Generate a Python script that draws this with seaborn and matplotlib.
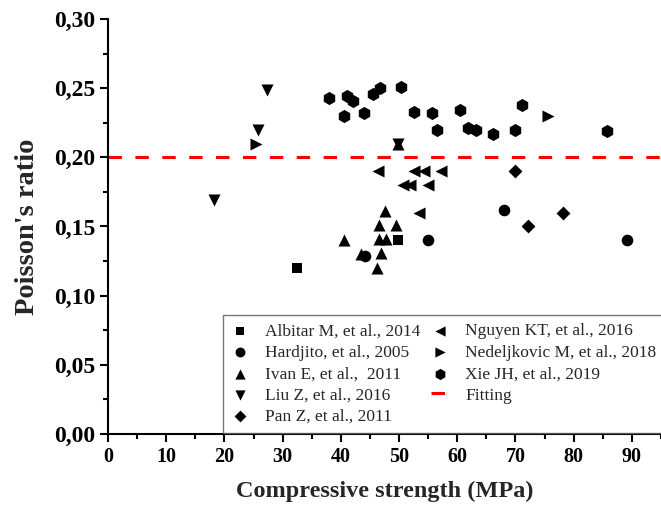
import matplotlib
matplotlib.use("Agg")
import matplotlib.pyplot as plt
import matplotlib.ticker as mticker
import seaborn as sns
import pandas as pd

# ---- data ----
albitar_x = [32.5, 49.9]
albitar_y = [0.12, 0.14]

hardjito_x = [44.2, 55.0, 68.1, 89.1]
hardjito_y = [0.129, 0.14, 0.162, 0.14]

ivan_x = [47.6, 46.6, 49.4, 40.5, 46.6, 47.8, 43.5, 46.9, 46.2, 49.9]
ivan_y = [0.161, 0.151, 0.151, 0.14, 0.141, 0.141, 0.13, 0.131, 0.12, 0.21]

liu_x = [18.2, 25.7, 27.4, 49.9]
liu_y = [0.169, 0.22, 0.249, 0.21]

pan_x = [69.9, 72.2, 78.1]
pan_y = [0.19, 0.15, 0.16]

nguyen_x = [46.3, 52.5, 54.3, 57.2, 50.6, 51.9, 54.9, 53.5]
nguyen_y = [0.19, 0.19, 0.19, 0.19, 0.18, 0.18, 0.18, 0.16]

nedeljkovic_x = [25.5, 75.6]
nedeljkovic_y = [0.21, 0.23]

xie_x = [37.9, 40.6, 41.1, 42.1, 43.9, 45.5, 46.8, 50.4, 52.6, 55.6,
         56.5, 60.5, 61.9, 63.3, 66.1, 69.9, 71.1, 85.8]
xie_y = [0.243, 0.230, 0.244, 0.241, 0.232, 0.246, 0.250, 0.251, 0.233, 0.232,
         0.220, 0.234, 0.221, 0.220, 0.217, 0.220, 0.238, 0.219]

fitting_value = 0.20

series = [
    ("Albitar M, et al., 2014", albitar_x, albitar_y, "s"),
    ("Hardjito, et al., 2005", hardjito_x, hardjito_y, "o"),
    ("Ivan E, et al.,  2011", ivan_x, ivan_y, "^"),
    ("Liu Z, et al., 2016", liu_x, liu_y, "v"),
    ("Pan Z, et al., 2011", pan_x, pan_y, "D"),
    ("Nguyen KT, et al., 2016", nguyen_x, nguyen_y, "<"),
    ("Nedeljkovic M, et al., 2018", nedeljkovic_x, nedeljkovic_y, ">"),
    ("Xie JH, et al., 2019", xie_x, xie_y, "h"),
]

sns.set_style("ticks")
plt.rcParams["font.family"] = ["Liberation Serif", "DejaVu Serif"]

fig = plt.figure(figsize=(6.61, 5.08), dpi=100)
ax = fig.add_axes([108 / 661, (508 - 434) / 508, (661 - 108) / 661, (434 - 19) / 508])

sizes = {"s": 55, "o": 70, "^": 75, "v": 75, "D": 50, "<": 75, ">": 75, "h": 90}
for name, xs, ys, mk in series:
    df = pd.DataFrame({"x": xs, "y": ys})
    sns.scatterplot(data=df, x="x", y="y", marker=mk, color="black",
                    s=sizes[mk], linewidth=0, ax=ax, label=name, zorder=3)

ax.axhline(fitting_value, color="#ff0000", lw=2.2, dashes=(4.4, 4.4),
           label="Fitting", zorder=2)

ax.set_xlim(0, 95)
ax.set_ylim(0, 0.30)
ax.xaxis.set_major_locator(mticker.MultipleLocator(10))
ax.xaxis.set_minor_locator(mticker.MultipleLocator(5))
ax.yaxis.set_major_locator(mticker.MultipleLocator(0.05))
ax.yaxis.set_minor_locator(mticker.MultipleLocator(0.025))
ax.yaxis.set_major_formatter(mticker.FuncFormatter(lambda v, p: f"{v:.2f}".replace(".", ",")))

for s in ["top", "right"]:
    ax.spines[s].set_visible(False)
for s in ["left", "bottom"]:
    ax.spines[s].set_linewidth(1.5)
    ax.spines[s].set_color("black")

ax.tick_params(which="major", direction="out", length=6, width=1.5, colors="black")
ax.tick_params(which="minor", direction="out", length=3.5, width=1.5, colors="black")
ax.tick_params(axis="x", labelsize=14.5, pad=3)
ax.tick_params(axis="y", labelsize=17, pad=3)
for lab in ax.get_xticklabels() + ax.get_yticklabels():
    lab.set_fontweight("bold")

ax.set_xlabel("Compressive strength (MPa)", fontsize=17.5, fontweight="bold", labelpad=10)
ax.set_ylabel("Poisson's ratio", fontsize=20.5, fontweight="bold", labelpad=10)

handles, labels = ax.get_legend_handles_labels()
leg = ax.legend(handles, labels, ncol=2, loc="upper left",
                bbox_to_anchor=(223 / 661, (508 - 315) / 508),
                bbox_transform=fig.transFigure, borderaxespad=0,
                fontsize=12.5, frameon=True, fancybox=False, edgecolor="#555555",
                handlelength=1.0, handletextpad=0.94, columnspacing=0.63,
                labelspacing=0.3, markerscale=0.85, borderpad=0.48)
leg.get_frame().set_linewidth(1.0)

fig.savefig("out.png", dpi=100)
